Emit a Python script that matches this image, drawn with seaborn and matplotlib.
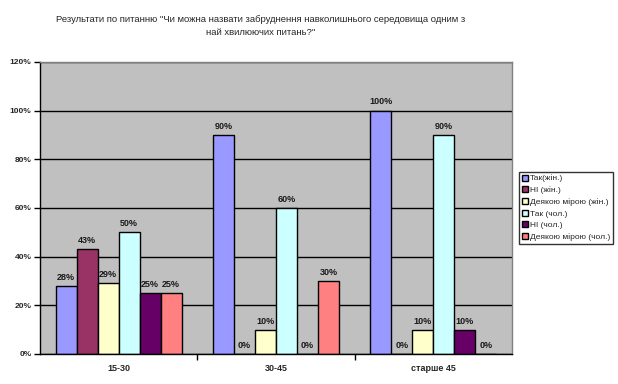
import pandas as pd
import numpy as np
import matplotlib
matplotlib.use("Agg")
import matplotlib.pyplot as plt
import seaborn as sns
from matplotlib.ticker import FixedLocator, FuncFormatter

# Data
groups = ["15-30", "30-45", "старше 45"]
series = ["Так(жін.)", "НІ (жін.)", "Деякою мірою (жін.)",
          "Так (чол.)", "НІ (чол.)", "Деякою мірою (чол.)"]
tak_zhin = [0.28, 0.90, 1.00]
ni_zhin = [0.43, 0.00, 0.00]
deyakoyu_zhin = [0.29, 0.10, 0.10]
tak_chol = [0.50, 0.60, 0.90]
ni_chol = [0.25, 0.00, 0.10]
deyakoyu_chol = [0.25, 0.30, 0.00]
colors = ["#9999FF", "#993366", "#FFFFCC", "#CCFFFF", "#660066", "#FF8080"]

values = [tak_zhin, ni_zhin, deyakoyu_zhin, tak_chol, ni_chol, deyakoyu_chol]
rows = []
for name, vals in zip(series, values):
    for g, v in zip(groups, vals):
        rows.append({"group": g, "series": name, "value": v})
df = pd.DataFrame(rows)

sns.set_style("white")
plt.rcParams["font.family"] = ["Liberation Sans", "DejaVu Sans"]

fig = plt.figure(figsize=(6.18, 3.84), dpi=100)
ax = fig.add_axes([40 / 618, 1 - 354 / 384, 472 / 618, 292 / 384])
ax.set_facecolor("#C0C0C0")

sns.barplot(data=df, x="group", y="value", hue="series", hue_order=series,
            palette=colors, edgecolor="black", linewidth=1, width=0.8,
            saturation=1, ax=ax, legend=True)

# data labels
for cont in ax.containers:
    ax.bar_label(cont, labels=[f"{v * 100:.0f}%" for v in cont.datavalues],
                 padding=3, fontsize=6.5, fontweight="bold", color="#1a1a1a")

ax.set_ylim(0, 1.2)
ax.set_xlim(-0.5, 2.5)
ax.yaxis.set_major_locator(FixedLocator(np.arange(0, 1.21, 0.2)))
ax.yaxis.set_major_formatter(FuncFormatter(lambda v, p: f"{v * 100:.0f}%"))
ax.grid(axis="y", color="black", linewidth=1)
ax.set_axisbelow(True)
ax.set_xlabel("")
ax.set_ylabel("")

ax.tick_params(axis="y", left=True, length=4, width=1, color="black",
               labelsize=6, pad=2)
for lbl in ax.get_yticklabels():
    lbl.set_fontweight("bold")
ax.tick_params(axis="x", which="major", bottom=False, labelsize=6.5, pad=4)
for lbl in ax.get_xticklabels():
    lbl.set_fontweight("bold")
ax.xaxis.set_minor_locator(FixedLocator([0.5, 1.5]))
ax.tick_params(axis="x", which="minor", bottom=True, length=4, width=1,
               color="black")

for side in ["left", "bottom"]:
    ax.spines[side].set_color("black")
    ax.spines[side].set_linewidth(1)
for side in ["top", "right"]:
    ax.spines[side].set_color("#808080")
    ax.spines[side].set_linewidth(1)

leg = ax.legend(loc="upper left", bbox_to_anchor=(519 / 618, 1 - 172 / 384),
                bbox_transform=fig.transFigure, fontsize=6, frameon=True,
                fancybox=False, edgecolor="black", handlelength=0.75,
                handleheight=0.75, handletextpad=0.25, labelspacing=0.45,
                borderpad=0.3, borderaxespad=0)
leg.get_frame().set_linewidth(1)

fig.text(261 / 618, 1 - 26 / 384,
         "Результати по питанню \"Чи можна назвати забруднення навколишнього середовища одним з\n"
         "най хвилюючих питань?\"",
         ha="center", va="center", fontsize=6.8, linespacing=1.45)

fig.savefig("out.png", dpi=100, facecolor="white")
